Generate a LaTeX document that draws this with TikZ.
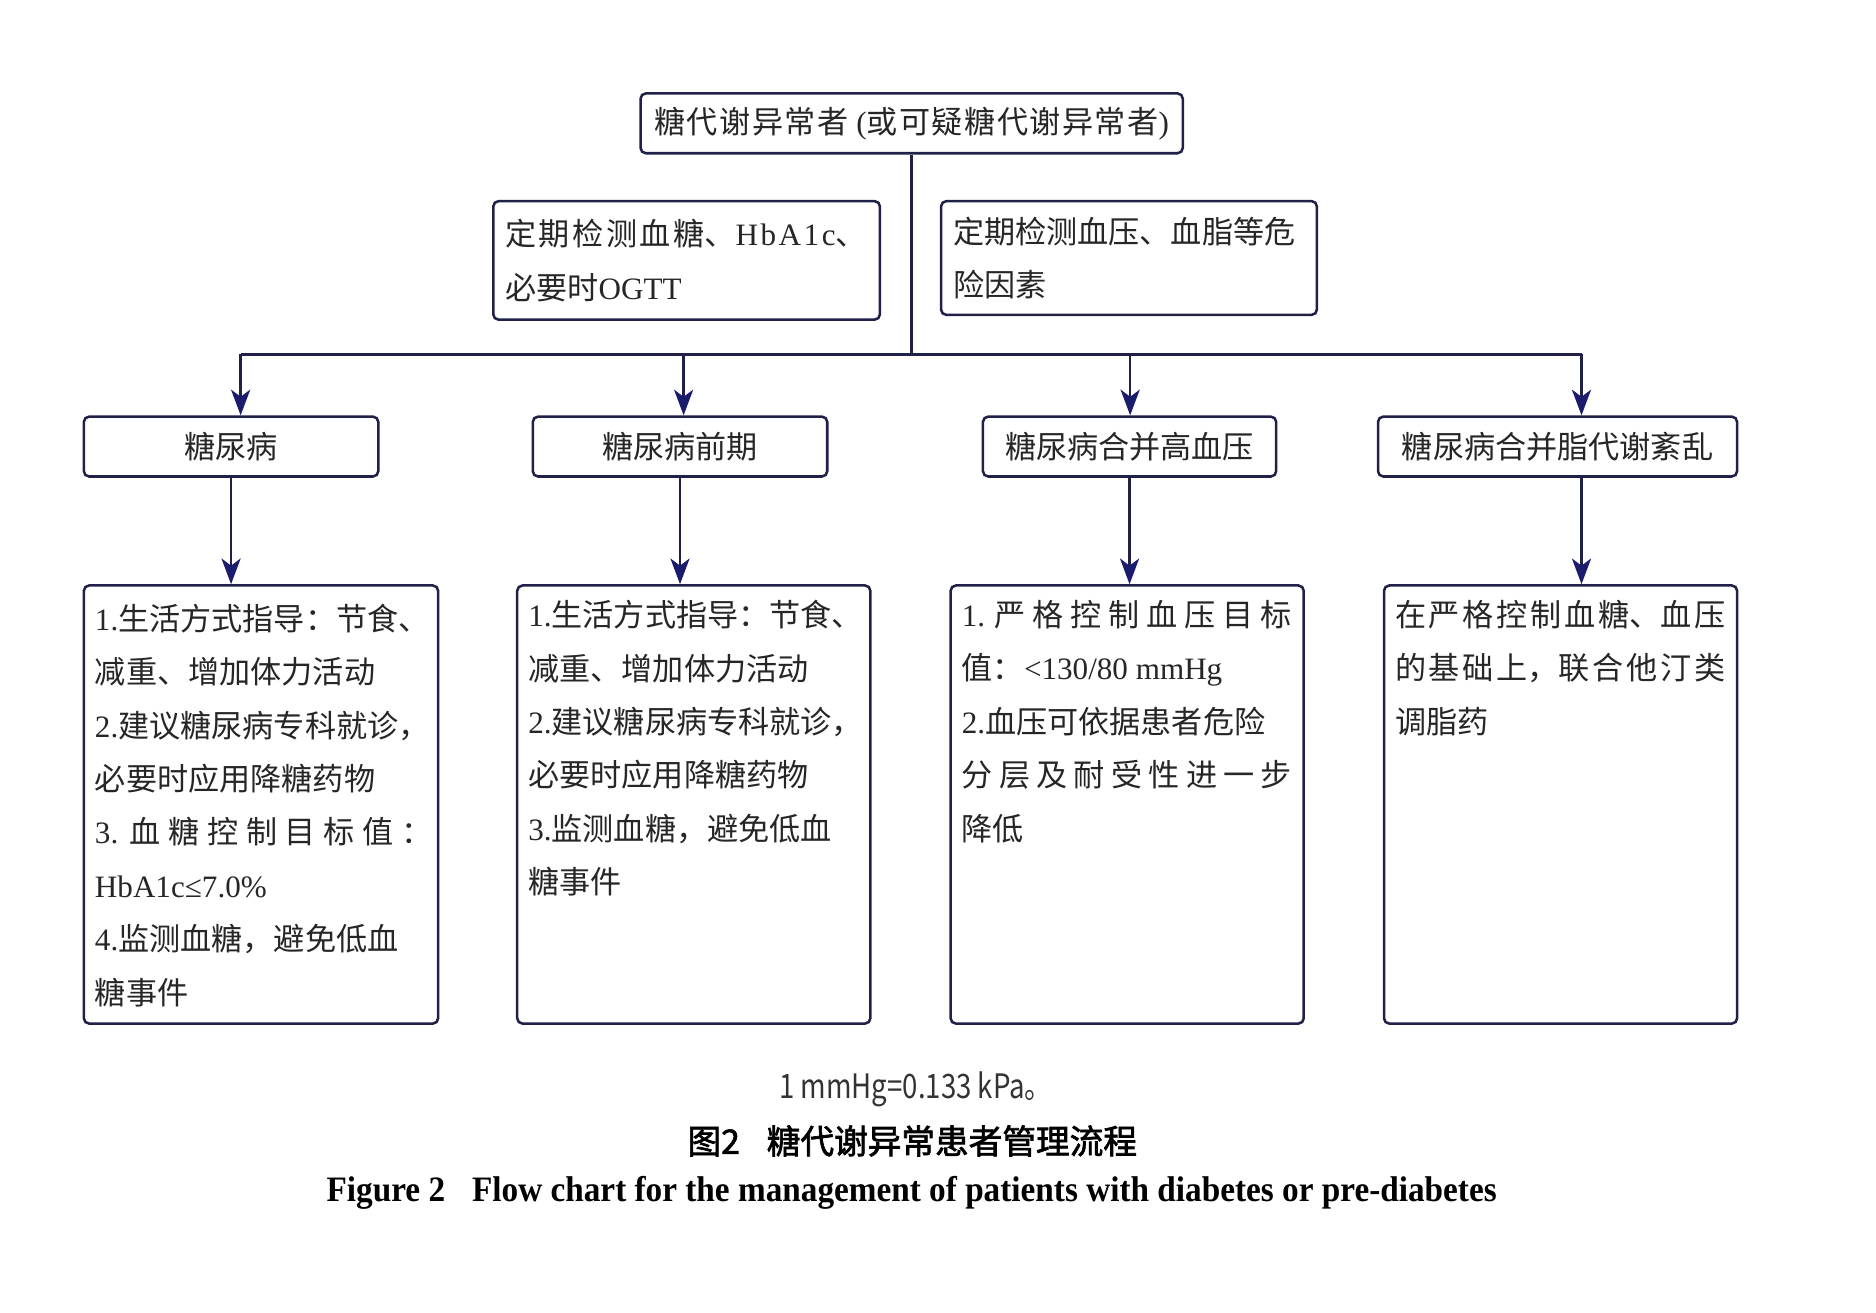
\documentclass[tikz,border=0pt]{standalone}
\usepackage{fontspec}
\setmainfont{Liberation Serif}
\newfontfamily\cjk{Noto Sans CJK SC}
\newfontfamily\cjkbold[FakeBold=2]{Noto Sans CJK SC}
\newfontfamily\notefont[FakeStretch=0.82]{Noto Sans CJK SC}
\newfontfamily\capfont[FakeStretch=0.93]{Liberation Serif}
\usetikzlibrary{arrows.meta,positioning}
\definecolor{navy}{RGB}{32,32,72}
\definecolor{tipblue}{RGB}{28,28,110}
\newcommand\lat[1]{{\rmfamily #1}}
\newcommand\spread[2]{\makebox[#1][s]{#2}}
\newcommand\gp{\hfill{}}
\tikzset{
  box/.style={draw=navy, line width=1.2pt, rounded corners=2.5pt, inner sep=0pt},
  boxtext/.style={font=\cjk\fontsize{14.8}{25.4}\selectfont, align=left, inner sep=0pt, text=black!85},
  link/.style={draw=navy, line width=1.2pt},
  arr/.style={link, -{Stealth[length=0.43cm, width=0.32cm, inset=0.12cm, color=tipblue]}}
}
\begin{document}
\begin{tikzpicture}[x=0.02cm, y=-0.02cm]
  \useasboundingbox (0,0) rectangle (1567,1096);
  % Top box
  \node[box, boxtext, minimum width=9.06cm, minimum height=1cm] (top) at (761.5,103)
    {\spread{8.6cm}{糖\gp{}代\gp{}谢\gp{}异\gp{}常\gp{}者\lat{ (}或\gp{}可\gp{}疑\gp{}糖\gp{}代\gp{}谢\gp{}异\gp{}常\gp{}者\lat{)}}};
  % Monitoring
  \node[box, boxtext, text width=6.06cm, inner xsep=0.2cm, minimum height=1.98cm] (chk1) at (573.5,217.5)
    {\spread{6.04cm}{定\gp{}期\gp{}检\gp{}测\gp{}血\gp{}糖、\lat{H\gp{}b\gp{}A\gp{}1\gp{}c}、}\\必要时\lat{OGTT}};
  \node[box, boxtext, text width=5.88cm, inner xsep=0.2cm, minimum height=1.9cm] (chk2) at (943,215.5)
    {定期检测血压、血脂等危\\险因素};
  % Bus
  \coordinate (b1) at (201,296);
  \coordinate (b2) at (571,296);
  \coordinate (b3) at (944,296);
  \coordinate (b4) at (1321,296);
  \draw[link] (top.south) -- (top.south |- b1);
  \draw[link] (b1) -- (b4);
  % Categories
  \node[box, boxtext, minimum width=4.92cm, minimum height=1cm] (c1) at (193,373) {糖尿病};
  \node[box, boxtext, minimum width=4.92cm, minimum height=1cm] (c2) at (568,373) {糖尿病前期};
  \node[box, boxtext, minimum width=4.9cm, minimum height=1cm] (c3) at (943.5,373) {糖尿病合并高血压};
  \node[box, boxtext, minimum width=6cm, minimum height=1cm] (c4) at (1301,373) {糖尿病合并脂代谢紊乱};
  \draw[arr] (b1) -- (b1 |- c1.north);
  \draw[arr] (b2) -- (b2 |- c2.north);
  \draw[arr] (b3) -- (b3 |- c3.north);
  \draw[arr] (b4) -- (b4 |- c4.north);
  % Details
  \node[box, minimum width=5.92cm, minimum height=7.32cm] (d1) at (218,672) {};
  \node[box, minimum width=5.9cm, minimum height=7.32cm] (d2) at (579.5,672) {};
  \node[box, minimum width=5.9cm, minimum height=7.32cm] (d3) at (941.5,672) {};
  \node[box, minimum width=5.9cm, minimum height=7.32cm] (d4) at (1303.5,672) {};
  \node[boxtext, below right=0.32cm and 0.2cm of d1.north west] (t1) {%
    \lat{1.}生活方式指导：节食、\\
    减重、增加体力活动\\
    \lat{2.}建议糖尿病专科就诊，\\
    必要时应用降糖药物\\
    \spread{5.64cm}{\lat{3.} 血 糖 控 制 目 标 值 ：}\\
    \lat{HbA1c≤7.0\%}\\
    \lat{4.}监测血糖，避免低血\\
    糖事件};
  \node[boxtext, below right=0.26cm and 0.2cm of d2.north west] (t2) {%
    \lat{1.}生活方式指导：节食、\\
    减重、增加体力活动\\
    \lat{2.}建议糖尿病专科就诊，\\
    必要时应用降糖药物\\
    \lat{3.}监测血糖，避免低血\\
    糖事件};
  \node[boxtext, below right=0.26cm and 0.2cm of d3.north west] (t3) {%
    \spread{5.52cm}{\lat{1.} 严 格 控 制 血 压 目 标}\\
    值：\lat{<130/80 mmHg}\\
    \lat{2.}血压可依据患者危险\\
    \spread{5.52cm}{分 层 及 耐 受 性 进 一 步}\\
    降低};
  \node[boxtext, below right=0.26cm and 0.2cm of d4.north west] (t4) {%
    \spread{5.52cm}{在\gp{}严\gp{}格\gp{}控\gp{}制\gp{}血\gp{}糖、血\gp{}压}\\
    \spread{5.52cm}{的\gp{}基\gp{}础\gp{}上，联\gp{}合\gp{}他\gp{}汀\gp{}类}\\
    调脂药};
  \draw[arr] (c1.south) -- (c1.south |- d1.north);
  \draw[arr] (c2.south) -- (c2.south |- d2.north);
  \draw[arr] (c3.south) -- (c3.south |- d3.north);
  \draw[arr] (b4 |- c4.south) -- (b4 |- d4.north);
  % Caption
  \node[font=\notefont\fontsize{16}{18}\selectfont, text=black!80] (note) at (765,910) {1 mmHg=0.133 kPa。};
  \node[font=\cjkbold\fontsize{16}{18}\selectfont] (capzh) at (762,953) {图2\hspace{0.45cm}糖代谢异常患者管理流程};
  \node[font=\capfont\bfseries\fontsize{17}{19}\selectfont] (capen) at (761.5,996)
    {Figure 2\hspace{0.45cm}Flow chart for the management of patients with diabetes or pre-diabetes};
\end{tikzpicture}
\end{document}
